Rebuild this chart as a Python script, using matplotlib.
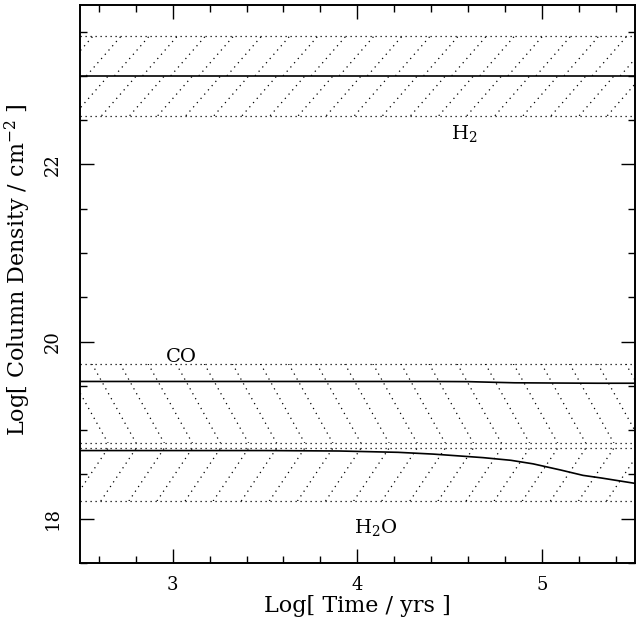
import numpy as np
import matplotlib.pyplot as plt
from matplotlib.ticker import MultipleLocator

plt.rcParams['font.family'] = ['DejaVu Serif']
plt.rcParams['mathtext.fontset'] = 'dejavuserif'

# Data: log time and log column densities
t_h2 = [2.5, 5.5]
n_h2 = [23.0, 23.0]
band_h2 = (22.55, 23.45)

t_co = [2.5, 3.5, 4.0, 4.4, 4.6, 4.75, 4.85, 5.1, 5.3, 5.5]
n_co = [19.55, 19.55, 19.55, 19.55, 19.548, 19.54, 19.535, 19.532, 19.53, 19.53]
band_co = (18.85, 19.75)

t_h2o = [2.5, 3.0, 3.5, 3.9, 4.22, 4.41, 4.68, 4.83, 4.95, 5.10, 5.22, 5.32, 5.5]
n_h2o = [18.77, 18.77, 18.77, 18.765, 18.75, 18.73, 18.69, 18.66, 18.62, 18.55, 18.49, 18.46, 18.40]
band_h2o = (18.2, 18.8)

labels = ["H$_2$", "CO", "H$_2$O"]
label_pos = [(4.58, 22.29), (3.05, 19.77), (4.10, 17.84)]

xlim = (2.5, 5.5)
ylim = (17.5, 23.8)

fig = plt.figure(figsize=(6.36, 6.27), dpi=100)
ax = fig.add_axes([0.126, 0.102, 0.872, 0.890])
ax.set_xlim(*xlim)
ax.set_ylim(*ylim)

# data-units per display-pixel ratio, for hatch angles
ppx = 184.0 / 88.5


def hatch(lo, hi, direction, steep, phase=0.0):
    box = ax.axhspan(lo, hi, fill=False, edgecolor='none')
    slope = steep * ppx
    dx = 0.152
    span = (hi - lo) / slope
    for x0 in np.arange(xlim[0] - span - dx + phase, xlim[1] + span + dx, dx):
        xs = np.array([x0, x0 + span])
        ys = np.array([lo, hi]) if direction > 0 else np.array([hi, lo])
        ln, = ax.plot(xs, ys, color='black', linestyle=(0, (1, 3.5)),
                      linewidth=0.9)
        ln.set_clip_path(box)


def band_edges(lo, hi):
    ax.hlines([lo, hi], *xlim, colors='black', linestyles=(0, (1, 3)),
              linewidth=0.9)


# H2 band: upper and lower halves hatched separately
hatch(band_h2[0], n_h2[0], 1, 1.15, 0.0)
hatch(n_h2[0], band_h2[1], 1, 1.15, 0.07)
band_edges(*band_h2)
hatch(*band_co, -1, 1.8)
band_edges(*band_co)
hatch(*band_h2o, 1, 1.5)
band_edges(*band_h2o)

ax.plot(t_h2, n_h2, color='black', linewidth=1.2)
ax.plot(t_co, n_co, color='black', linewidth=1.2)
ax.plot(t_h2o, n_h2o, color='black', linewidth=1.2)

for lab, (x, y) in zip(labels, label_pos):
    ax.text(x, y, lab, fontsize=14, ha='center', va='baseline')

ax.xaxis.set_major_locator(MultipleLocator(1))
ax.xaxis.set_minor_locator(MultipleLocator(0.2))
ax.yaxis.set_major_locator(MultipleLocator(2))
ax.yaxis.set_minor_locator(MultipleLocator(0.5))
ax.tick_params(which='both', direction='in', top=True, right=True,
               labelsize=13, width=1)
ax.tick_params(which='major', length=10)
ax.tick_params(axis='x', which='major', pad=9)
ax.tick_params(axis='y', which='major', pad=13, labelrotation=90)
ax.tick_params(which='minor', length=5)
for lbl in ax.get_yticklabels():
    lbl.set_va('center')
for s in ax.spines.values():
    s.set_linewidth(1.4)

ax.set_xlabel("Log[ Time / yrs ]", fontsize=16, labelpad=1)
ax.set_ylabel("Log[ Column Density / cm$^{-2}$ ]", fontsize=16)
ax.yaxis.set_label_coords(-0.085, 0.525)

fig.savefig("out.png", dpi=100)
